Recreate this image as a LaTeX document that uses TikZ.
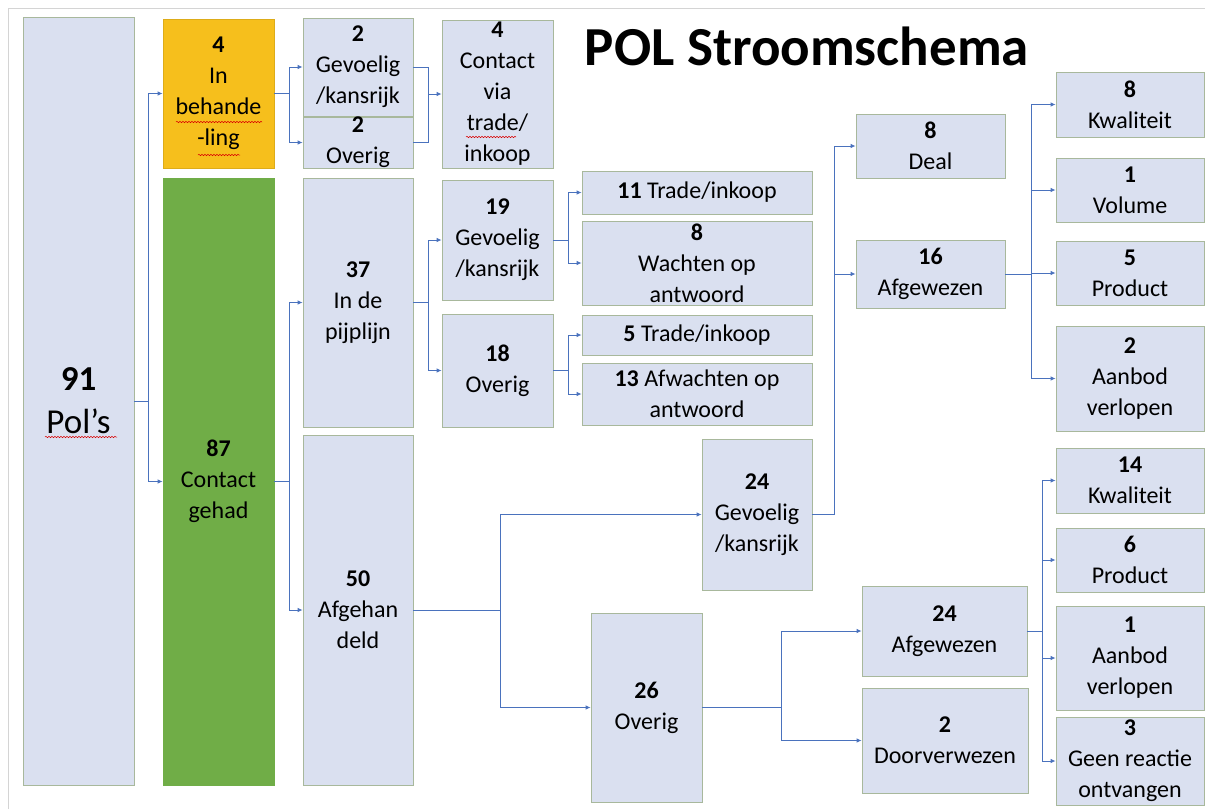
\documentclass[tikz,border=0pt]{standalone}
\usepackage{fontspec}
\setmainfont{Carlito}
\usetikzlibrary{arrows.meta,calc,decorations.pathmorphing}
\definecolor{boxfill}{HTML}{DAE0F0}
\definecolor{boxline}{HTML}{A8B89C}
\definecolor{lc}{HTML}{4A72BD}
\definecolor{gold}{HTML}{F6BF1C}
\definecolor{ggreen}{HTML}{70AD47}
\definecolor{frame}{HTML}{D4D4D4}
\tikzset{
  box/.style={draw=boxline, fill=boxfill, line width=0.8pt, inner sep=0pt, rectangle},
  txt/.style={align=center, inner sep=0pt, font=\fontsize{24}{31}\selectfont},
  bigtxt/.style={align=center, inner sep=0pt, font=\fontsize{35}{43}\selectfont},
  ln/.style={draw=lc, line width=0.9pt},
  arr/.style={ln, -{Latex[length=5pt,width=4.5pt]}},
  spell/.style={draw=red!85!black, line width=0.5pt, decorate, decoration={snake, segment length=3pt, amplitude=0.7pt}}
}
\newcommand\flowbox[7][]{%
  \node[box, #1, minimum width={#5-#3}, minimum height={#6-#4}] (#2) at ({(#3+#5)/2},{(#4+#6)/2}) {};
  \node[txt] at (#2.center) {#7};
}
\begin{document}
\begin{tikzpicture}[x=1pt,y=-1pt]
\useasboundingbox (0,0) rectangle (1205,809);
\draw[frame, line width=0.8pt] (8,809) -- (8,8) -- (1205,8);

\node[font=\fontsize{55}{60}\selectfont\bfseries, anchor=base, inner sep=0pt] (title) at (807,65) {POL Stroomschema};

% column 1-2
\node[box, minimum width=111, minimum height=768] (pols) at (78.5,401) {};
\node[bigtxt] at (pols.center) {\textbf{91}\\Pol’s};
\flowbox[draw=gold!90!black, fill=gold]{yel}{163}{19}{274}{168}{\textbf{4}\\In\\behande\\-ling}
\flowbox[draw=ggreen, fill=ggreen]{grn}{163}{178}{274}{785}{\textbf{87}\\Contact\\gehad}

% column 3
\flowbox{g2}{303}{18}{413}{116}{\textbf{2}\\Gevoelig\\/kansrijk}
\flowbox{o2}{303}{117}{413}{168}{\textbf{2}\\Overig}
\flowbox{p37}{303}{178}{413}{427}{\textbf{37}\\In de\\pijplijn}
\flowbox{a50}{303}{435}{413}{785}{\textbf{50}\\Afgehan\\deld}

% column 4
\flowbox{con}{442}{20}{553}{168}{\textbf{4}\\Contact\\via\\trade/\\inkoop}
\flowbox{g19}{442}{180}{553}{300}{\textbf{19}\\Gevoelig\\/kansrijk}
\flowbox{o18}{442}{314}{553}{427}{\textbf{18}\\Overig}

% column 5
\flowbox{t11}{582}{171}{812}{214}{\textbf{11} Trade/inkoop}
\flowbox{w8}{582}{221}{812}{305}{\textbf{8}\\Wachten op\\antwoord}
\flowbox{t5}{582}{315}{812}{355}{\textbf{5} Trade/inkoop}
\flowbox{a13}{582}{363}{812}{425}{\textbf{13} Afwachten op\\antwoord}
\flowbox{g24}{702}{439}{812}{590}{\textbf{24}\\Gevoelig\\/kansrijk}
\flowbox{o26}{591}{613}{702}{802}{\textbf{26}\\Overig}

% column 6
\flowbox{deal}{856}{114}{1005}{178}{\textbf{8}\\Deal}
\flowbox{af16}{856}{240}{1005}{308}{\textbf{16}\\Afgewezen}
\flowbox{af24}{862}{586}{1027}{676}{\textbf{24}\\Afgewezen}
\flowbox{dv2}{862}{688}{1028}{793}{\textbf{2}\\Doorverwezen}

% column 7
\flowbox{k8}{1056}{72}{1204}{137}{\textbf{8}\\Kwaliteit}
\flowbox{v1}{1056}{158}{1204}{222}{\textbf{1}\\Volume}
\flowbox{p5}{1056}{241}{1204}{305}{\textbf{5}\\Product}
\flowbox{ab2}{1056}{326}{1204}{431}{\textbf{2}\\Aanbod\\verlopen}
\flowbox{k14}{1056}{448}{1204}{513}{\textbf{14}\\Kwaliteit}
\flowbox{p6}{1056}{528}{1204}{592}{\textbf{6}\\Product}
\flowbox{ab1}{1056}{606}{1204}{710}{\textbf{1}\\Aanbod\\verlopen}
\flowbox{g3}{1056}{717}{1204}{805}{\textbf{3}\\Geen reactie\\ontvangen}

% spell-check marks
\draw[spell] (176,122) -- (262,122);
\draw[spell] (198,155) -- (240,155);
\draw[spell] (45,437) -- (117,437);
\draw[spell] (466,137) -- (516,137);

% connectors
\draw[arr] (pols.east) -- ++(14,0) |- (yel.west);
\draw[arr] (pols.east) -- ++(14,0) |- (grn.west);

\draw[arr] (yel.east) -- ++(15,0) |- (g2.west);
\draw[arr] (yel.east) -- ++(15,0) |- (o2.west);

\coordinate (jc) at ([xshift=15pt]g2.east);
\draw[ln] (g2.east) -- (jc) |- (o2.east);
\draw[arr] (jc |- con.west) -- (con.west);

\draw[arr] (grn.east) -- ++(15,0) |- (p37.west);
\draw[arr] (grn.east) -- ++(15,0) |- (a50.west);

\draw[arr] (p37.east) -- ++(15,0) |- (g19.west);
\draw[arr] (p37.east) -- ++(15,0) |- (o18.west);

\draw[arr] (g19.east) -- ++(15,0) |- (t11.west);
\draw[arr] (g19.east) -- ++(15,0) |- (w8.west);

\draw[arr] (o18.east) -- ++(15,0) |- (t5.west);
\draw[arr] (o18.east) -- ++(15,0) |- (a13.west);

\draw[arr] (a50.east) -- ++(87,0) |- (g24.west);
\draw[arr] (a50.east) -- ++(87,0) |- (o26.west);

\draw[arr] (g24.east) -- ++(22,0) |- (deal.west);
\draw[arr] (g24.east) -- ++(22,0) |- (af16.west);

\draw[arr] (af16.east) -- ++(26,0) |- (k8.west);
\draw[arr] (af16.east) -- ++(26,0) |- (v1.west);
\draw[arr] (af16.east) -- ++(26,0) |- (p5.west);
\draw[arr] (af16.east) -- ++(26,0) |- (ab2.west);

\draw[arr] (o26.east) -- ++(79,0) |- (af24.west);
\draw[arr] (o26.east) -- ++(79,0) |- (dv2.west);

\draw[arr] (af24.east) -- ++(15,0) |- (k14.west);
\draw[arr] (af24.east) -- ++(15,0) |- (p6.west);
\draw[arr] (af24.east) -- ++(15,0) |- (ab1.west);
\draw[arr] (af24.east) -- ++(15,0) |- (g3.west);
\end{tikzpicture}
\end{document}
